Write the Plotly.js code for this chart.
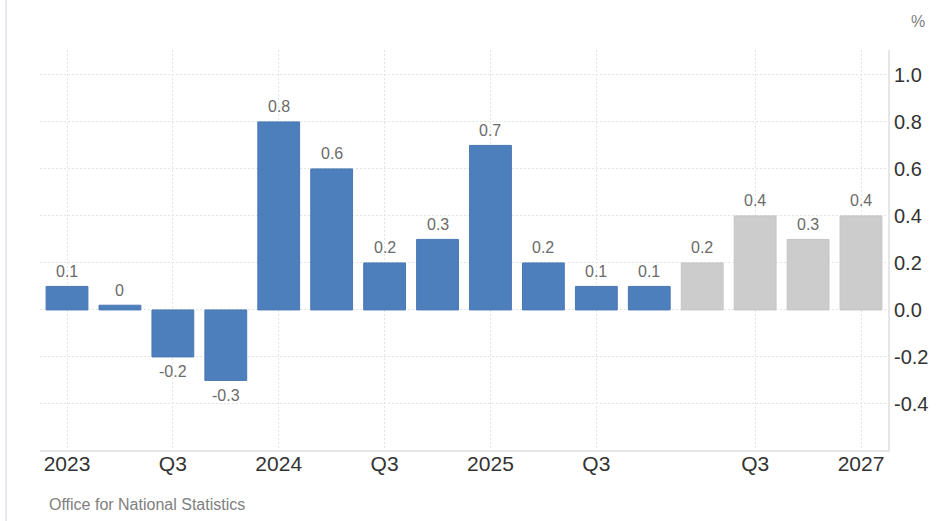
<!DOCTYPE html>
<html>
<head>
<meta charset="utf-8">
<script src="https://cdn.plot.ly/plotly-3.0.1.min.js"></script>
<style>
html,body{margin:0;padding:0;background:#fff;}
#chart{width:940px;height:521px;}
</style>
</head>
<body>
<div id="chart"></div>
<script>
// Data
const quarters = ["2023 Q1","2023 Q2","2023 Q3","2023 Q4","2024 Q1","2024 Q2","2024 Q3","2024 Q4","2025 Q1","2025 Q2","2025 Q3","2025 Q4","2026 Q1","2026 Q2","2026 Q3","2026 Q4"];
const values = [0.1, 0.02, -0.2, -0.3, 0.8, 0.6, 0.2, 0.3, 0.7, 0.2, 0.1, 0.1, 0.2, 0.4, 0.3, 0.4];
const valueLabels = ["0.1","0","-0.2","-0.3","0.8","0.6","0.2","0.3","0.7","0.2","0.1","0.1","0.2","0.4","0.3","0.4"];
const isForecast = [false,false,false,false,false,false,false,false,false,false,false,false,true,true,true,true];
const tickCats = ["2023 Q1","2023 Q3","2024 Q1","2024 Q3","2025 Q1","2025 Q3","2026 Q2","2026 Q4"];
const tickLabels = ["2023","Q3","2024","Q3","2025","Q3","Q3","2027"];
const yTickVals = [-0.4, -0.2, 0.0, 0.2, 0.4, 0.6, 0.8, 1.0];
const yTickLabels = ["-0.4","-0.2","0.0","0.2","0.4","0.6","0.8","1.0"];
const sourceText = "Office for National Statistics";
const unitText = "%";

const actualColor = "#4d7fbc";
const forecastColor = "#cccccc";
const fontFam = "Liberation Sans, Arial, sans-serif";

const trace = {
  type: "bar",
  x: quarters,
  y: values,
  marker: {
    color: isForecast.map(f => f ? forecastColor : actualColor),
    line: {color: isForecast.map(f => f ? "#c4c4c4" : "#4a78b3"), width: 1}
  },
  width: 0.79,
  hoverinfo: "none"
};

const annotations = quarters.map((q, i) => ({
  x: q, y: values[i], xref: "x", yref: "y",
  text: valueLabels[i], showarrow: false,
  yshift: values[i] >= 0 ? 15 : -15,
  font: {family: fontFam, size: 16, color: "#6b6b6b"}
}));
annotations.push({
  xref: "paper", yref: "paper", x: 0.008, y: -0.135, xanchor: "left", yanchor: "middle",
  text: sourceText, showarrow: false,
  font: {family: fontFam, size: 16, color: "#808080"}
});
annotations.push({
  xref: "paper", yref: "paper", x: 1.035, y: 1.07, xanchor: "center", yanchor: "middle",
  text: unitText, showarrow: false,
  font: {family: fontFam, size: 16, color: "#808080"}
});

const layout = {
  width: 940, height: 521,
  margin: {l: 40, r: 52, t: 50, b: 71},
  paper_bgcolor: "#ffffff",
  plot_bgcolor: "#ffffff",
  showlegend: false,
  font: {family: fontFam, color: "#333"},
  xaxis: {
    type: "category",
    range: [-0.51, 15.51],
    tickvals: tickCats,
    ticktext: tickLabels,
    showgrid: true,
    gridcolor: "#e4e4e4",
    griddash: "2px,2px",
    gridwidth: 1,
    ticks: "",
    ticklabelstandoff: -6,
    showline: true,
    linecolor: "#e6e6e6",
    linewidth: 2,
    tickfont: {size: 21, color: "#333"},
    zeroline: false,
    fixedrange: true
  },
  yaxis: {
    side: "right",
    range: [-0.596, 1.106],
    tickvals: yTickVals,
    ticktext: yTickLabels,
    showgrid: true,
    gridcolor: "#e4e4e4",
    griddash: "2px,2px",
    gridwidth: 1,
    zeroline: false,
    ticks: "",
    showline: true,
    linecolor: "#e6e6e6",
    linewidth: 2,
    tickfont: {size: 20, color: "#333"},
    fixedrange: true
  },
  annotations: annotations,
  shapes: [
    {type: "line", xref: "paper", yref: "paper", x0: -0.040, x1: -0.040, y0: -0.2, y1: 1.2,
     line: {color: "#e8e8ec", width: 2}}
  ]
};

Plotly.newPlot("chart", [trace], layout, {displayModeBar: false, staticPlot: true});
</script>
</body>
</html>
